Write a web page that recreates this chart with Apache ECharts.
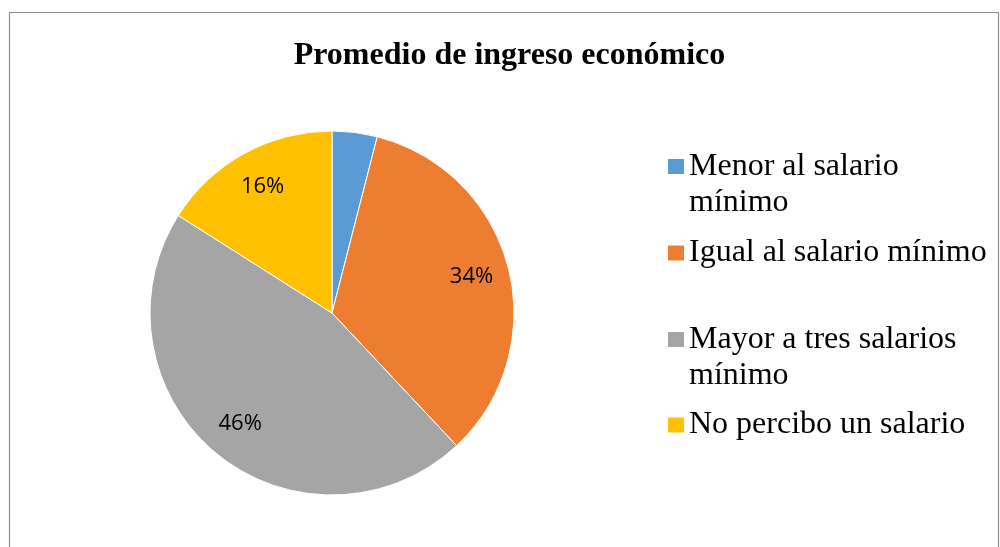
<!DOCTYPE html>
<html>
<head>
<meta charset="utf-8">
<script src="https://cdn.jsdelivr.net/npm/echarts@6/dist/echarts.min.js"></script>
<style>html,body{margin:0;padding:0;background:#fff}#c{width:1000px;height:547px}</style>
</head>
<body>
<div id="c"></div>
<script>
const titleText = 'Promedio de ingreso económico';
const categories = ['Menor al salario mínimo', 'Igual al salario mínimo', 'Mayor a tres salarios mínimo', 'No percibo un salario'];
const legendLabels = ['Menor al salario\nmínimo', 'Igual al salario mínimo', 'Mayor a tres salarios\nmínimo', 'No percibo un salario'];
const values = [4, 34, 46, 16];
const showLabel = [false, true, true, true];
const colors = ['#5B9BD5', '#ED7D31', '#A5A5A5', '#FFC000'];

const chart = echarts.init(document.getElementById('c'), null, {renderer: 'canvas'});
const legendTops = [112.5, 235, 285.5, 407];
const legends = categories.map((name, i) => {
  const twoLine = legendLabels[i].indexOf('\n') >= 0;
  return {
    orient: 'vertical',
    left: 668,
    top: legendTops[i],
    padding: 0,
    itemWidth: 16,
    itemHeight: 15,
    icon: 'rect',
    selectedMode: false,
    itemStyle: {borderWidth: 0},
    data: [name],
    // a blank leading line keeps the first text line level with the marker
    formatter: () => (twoLine ? ' \n' : '') + legendLabels[i],
    textStyle: {
      fontFamily: 'Liberation Serif',
      fontSize: 32,
      color: '#000',
      lineHeight: 36
    }
  };
});

chart.setOption({
  animation: false,
  color: colors,
  title: {
    text: titleText,
    left: 509.5,
    textAlign: 'center',
    top: 40,
    padding: 0,
    textStyle: {fontFamily: 'Liberation Serif', fontWeight: 'bold', fontSize: 32, color: '#000'}
  },
  legend: legends,
  graphic: [{
    type: 'rect',
    shape: {x: 9.5, y: 12.5, width: 989, height: 600},
    style: {fill: 'none', stroke: '#8c8c8c', lineWidth: 1.2},
    silent: true,
    z: -1
  }],
  series: [{
    type: 'pie',
    center: [332, 313],
    radius: [0, 182],
    startAngle: 90,
    clockwise: true,
    avoidLabelOverlap: false,
    itemStyle: {borderColor: '#fff', borderWidth: 1},
    label: {show: false},
    labelLine: {show: false},
    emphasis: {disabled: true},
    data: categories.map((n, i) => ({name: n, value: values[i]}))
  }, {
    type: 'pie',
    center: [332, 313],
    radius: [100, 182],
    startAngle: 90,
    clockwise: true,
    silent: true,
    avoidLabelOverlap: false,
    itemStyle: {color: 'rgba(0,0,0,0)', borderWidth: 0},
    labelLine: {show: false},
    emphasis: {disabled: true},
    label: {
      show: true,
      position: 'inside',
      formatter: p => p.value + '%',
      fontFamily: 'Open Sans',
      fontSize: 22,
      color: '#000'
    },
    data: categories.map((n, i) => ({name: n, value: values[i], label: {show: showLabel[i]}}))
  }]
});
</script>
</body>
</html>
